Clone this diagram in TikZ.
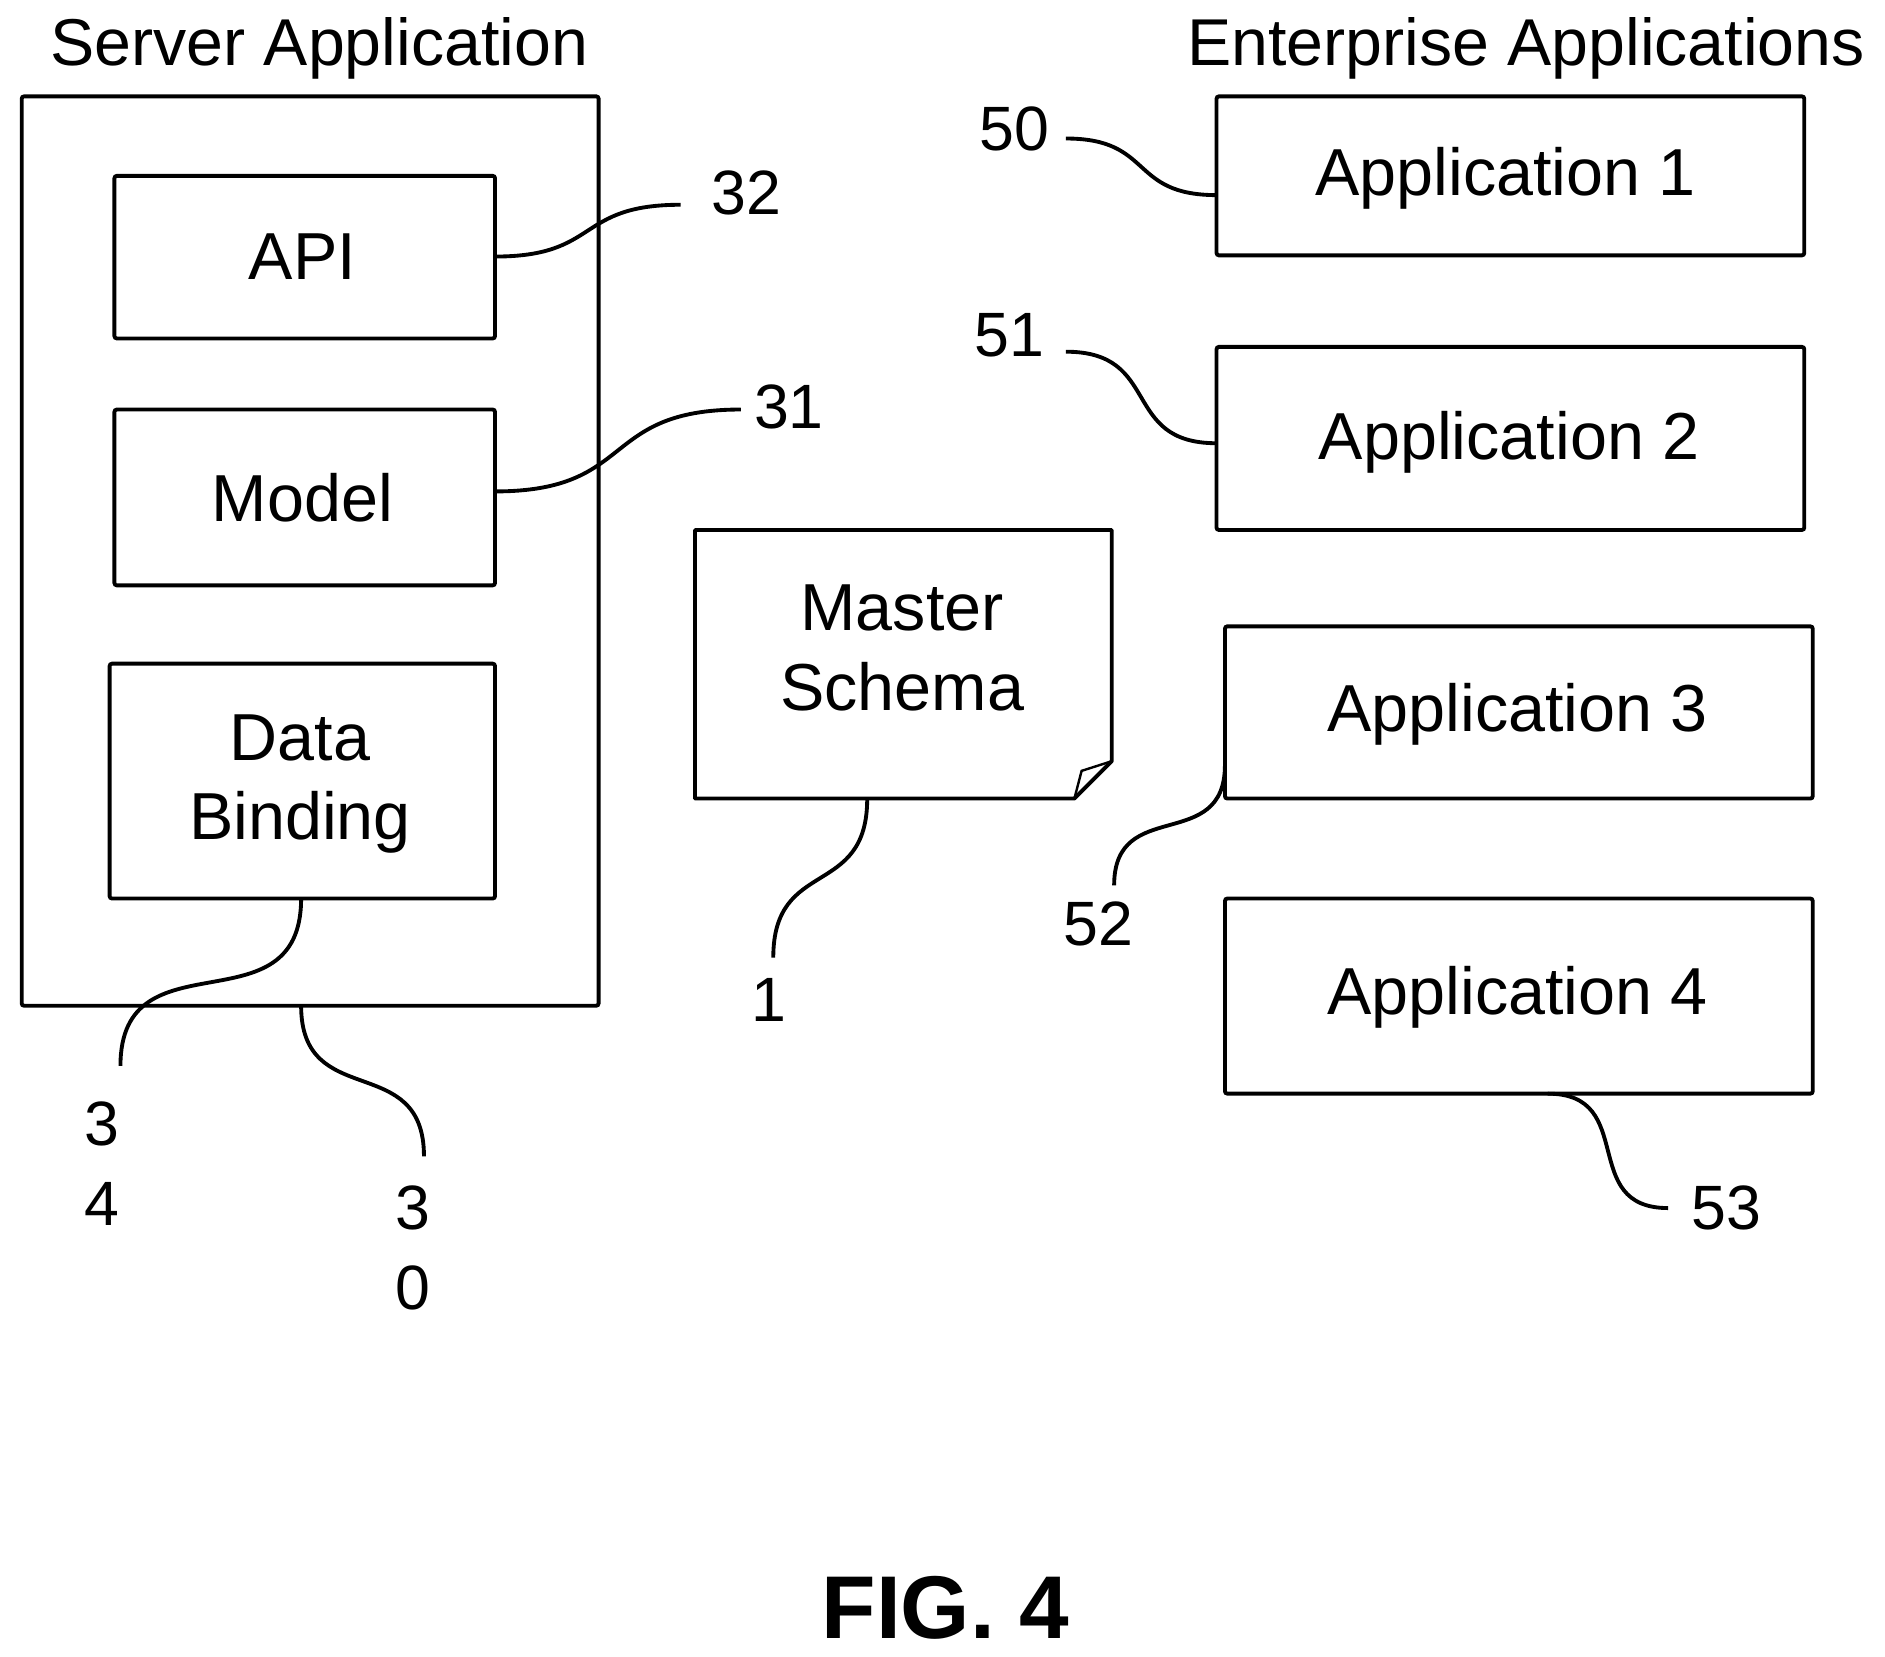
\documentclass[tikz,border=0pt]{standalone}
\usepackage{fontspec}
\setmainfont{Liberation Sans}
\begin{document}
\begin{tikzpicture}[x=0.5pt,y=-0.5pt,
 box/.style={draw,line width=1.6pt,rounded corners=1pt},
 big/.style={font=\fontsize{27.6}{33}\selectfont,align=center},
 lab/.style={font=\fontsize{26}{33}\selectfont,align=center},
 ttl/.style={font=\fontsize{27.5}{30}\selectfont},
 lead/.style={line width=1.6pt,looseness=1.4}]
\useasboundingbox (0,0) rectangle (1565,1375);
\node[ttl] (t1) at (265,40) {Server Application};
\node[ttl] (t2) at (1267,40) {Enterprise Applications};
\draw[box] (18,80) rectangle (497,835);
\coordinate (outerS) at (250,835);
\draw[box] (95,146) rectangle (411,281); \node[big] (api) at (251,213) {API};
\coordinate (apiE) at (411,213);
\draw[box] (95,340) rectangle (411,486); \node[big] (model) at (251,413) {Model};
\coordinate (modelE) at (411,408);
\draw[box] (91,551) rectangle (411,746); \node[big] (db) at (249,651) {Data\\Binding};
\coordinate (dbS) at (250,746);
\draw[line width=1.6pt,line join=round] (577,440) -- (923,440) -- (923,632) -- (892,663) -- (577,663) -- cycle;
\draw[line width=1pt] (923,632) -- (898,640) -- (892,663);
\node[big] (ms) at (749,538) {Master\\Schema};
\coordinate (msS) at (720,663);
\draw[box] (1010,80) rectangle (1498,212); \node[big] (a1) at (1250,148) {Application 1};
\draw[box] (1010,288) rectangle (1498,440); \node[big] (a2) at (1253,367) {Application 2};
\draw[box] (1017,520) rectangle (1505,663); \node[big] (a3) at (1260,593) {Application 3};
\draw[box] (1017,746) rectangle (1505,908); \node[big] (a4) at (1260,828) {Application 4};
\coordinate (a1W) at (1010,162); \coordinate (a2W) at (1010,368);
\coordinate (a3W) at (1017,635); \coordinate (a4S) at (1285,908);
\node[lab] (n32) at (620,160) {32};
\node[lab] (n31) at (655,338) {31};
\node[lab] (n34) at (85,966) {3\\4};
\node[lab] (n30) at (343,1036) {3\\0};
\node[lab] (n1) at (638,830) {1};
\node[lab] (n52) at (912,767) {52};
\node[lab] (n53) at (1433,1003) {53};
\node[lab] (n50) at (842,107) {50};
\node[lab] (n51) at (838,278) {51};
\draw[lead] (apiE) to[out=0,in=180] (565,170);
\draw[lead] (modelE) to[out=0,in=180] (615,340);
\draw[lead] (dbS) to[out=-90,in=90] (100,885);
\draw[lead] (outerS) to[out=-90,in=90] (352,960);
\draw[lead] (msS) to[out=-90,in=90] (642,795);
\draw[lead] (a3W) to[out=-90,in=90] (925,735);
\draw[lead] (a4S) to[out=0,in=180] (1385,1003);
\draw[lead] (885,115) to[out=0,in=180] (a1W);
\draw[lead] (885,292) to[out=0,in=180] (a2W);
\node[font=\fontsize{37}{44}\selectfont\bfseries] (fig) at (785,1335) {FIG. 4};
\end{tikzpicture}
\end{document}
